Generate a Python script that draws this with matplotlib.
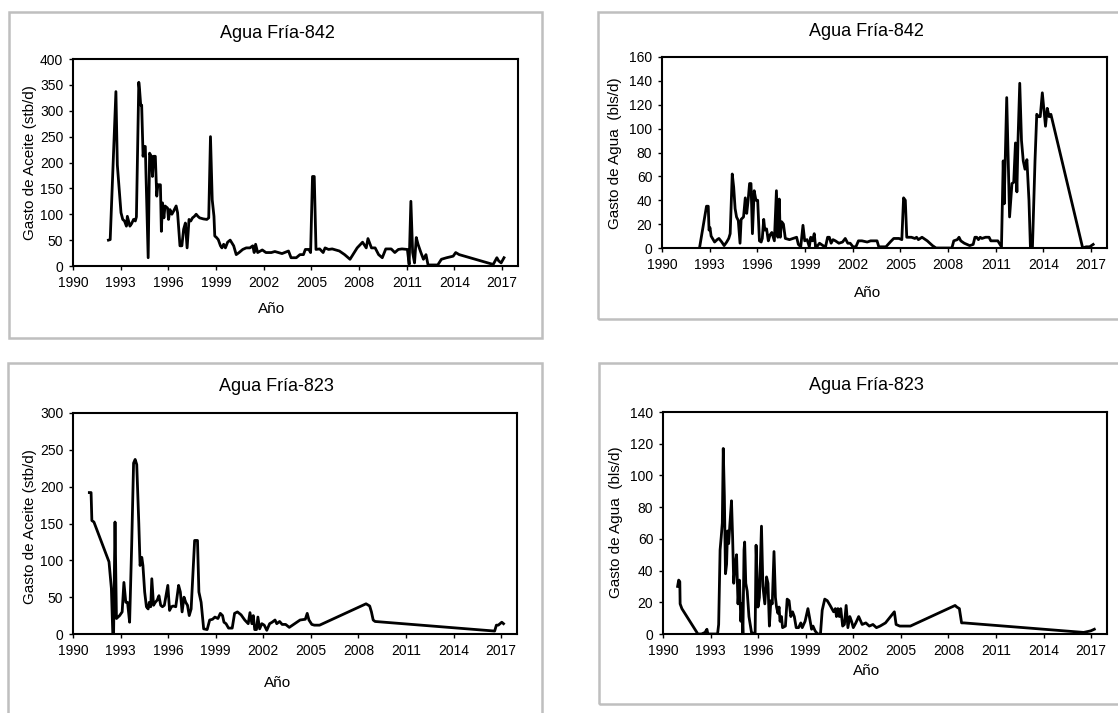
import matplotlib
matplotlib.use("Agg")
import matplotlib.pyplot as plt
from matplotlib.patches import Rectangle

plt.rcParams['font.family'] = ['Liberation Sans', 'DejaVu Sans']

W, H = 1118, 713

# Agua Fría-842, gasto de aceite (stb/d)
oil_842_year = [1992.23, 1992.34, 1992.55, 1992.70, 1992.79, 1993.02, 1993.13, 1993.24, 1993.36, 1993.42,
                1993.58, 1993.69, 1993.81, 1993.92, 1993.99, 1994.14, 1994.19, 1994.26, 1994.32, 1994.41,
                1994.48, 1994.55, 1994.59, 1994.73, 1994.82, 1994.93, 1995.00, 1995.07, 1995.18, 1995.27,
                1995.34, 1995.50, 1995.56, 1995.63, 1995.72, 1995.79, 1995.95, 1996.01, 1996.10, 1996.22,
                1996.33, 1996.49, 1996.58, 1996.73, 1996.85, 1996.96, 1997.07, 1997.18, 1997.30, 1997.41,
                1997.52, 1997.64, 1997.75, 1997.86, 1997.97, 1998.20, 1998.42, 1998.54, 1998.65, 1998.76,
                1998.87, 1998.92, 1999.03, 1999.14, 1999.28, 1999.37, 1999.48, 1999.59, 1999.73, 1999.89,
                2000.11, 2000.27, 2000.45, 2000.68, 2000.90, 2001.13, 2001.31, 2001.40, 2001.49, 2001.62,
                2001.91, 2002.14, 2002.48, 2002.70, 2003.15, 2003.56, 2003.72, 2004.05, 2004.28, 2004.50,
                2004.62, 2004.84, 2004.95, 2005.07, 2005.18, 2005.29, 2005.52, 2005.74, 2005.86, 2006.08,
                2006.31, 2006.76, 2007.09, 2007.43, 2007.88, 2008.22, 2008.45, 2008.56, 2008.78, 2009.01,
                2009.23, 2009.46, 2009.68, 2010.02, 2010.25, 2010.47, 2010.70, 2011.04, 2011.15, 2011.26,
                2011.37, 2011.49, 2011.60, 2011.71, 2011.89, 2012.05, 2012.21, 2012.34, 2012.61, 2012.95,
                2013.18, 2013.51, 2013.92, 2014.08, 2014.30, 2016.44, 2016.67, 2016.78, 2016.94, 2017.12]
oil_842_rate = [50, 51, 215, 337, 195, 103, 90, 87, 77, 96,
                77, 82, 90, 87, 95, 355, 340, 311, 311, 212,
                231, 231, 180, 16, 218, 212, 173, 212, 212, 135,
                157, 157, 67, 122, 93, 116, 112, 90, 109, 100,
                106, 116, 103, 39, 39, 71, 83, 35, 90, 87,
                93, 96, 100, 96, 93, 91, 90, 93, 250, 128,
                96, 58, 55, 51, 39, 35, 42, 35, 46, 50,
                39, 22, 26, 32, 35, 35, 39, 26, 42, 26,
                31, 26, 26, 28, 24, 29, 16, 16, 22, 22,
                32, 32, 26, 173, 173, 32, 33, 26, 35, 32,
                33, 29, 22, 13, 35, 46, 35, 53, 35, 35,
                22, 16, 33, 33, 26, 32, 33, 32, 3, 125,
                26, 6, 55, 42, 26, 13, 22, 2, 2, 2,
                13, 16, 19, 26, 22, 3, 16, 10, 6, 16]

# Agua Fría-842, gasto de agua (bls/d)
water_842_year = [1992.36, 1992.80, 1992.91, 1992.96, 1993.02, 1993.09, 1993.18, 1993.31, 1993.47, 1993.58,
                  1993.76, 1993.91, 1994.07, 1994.20, 1994.29, 1994.42, 1994.51, 1994.60, 1994.69, 1994.80,
                  1994.91, 1994.98, 1995.13, 1995.24, 1995.33, 1995.42, 1995.51, 1995.60, 1995.69, 1995.80,
                  1995.91, 1996.02, 1996.13, 1996.24, 1996.31, 1996.40, 1996.47, 1996.58, 1996.69, 1996.80,
                  1996.91, 1997.07, 1997.20, 1997.29, 1997.38, 1997.44, 1997.53, 1997.64, 1997.76, 1998.02,
                  1998.24, 1998.47, 1998.58, 1998.73, 1998.87, 1998.98, 1999.13, 1999.27, 1999.36, 1999.47,
                  1999.58, 1999.67, 1999.80, 1999.91, 2000.13, 2000.29, 2000.42, 2000.53, 2000.64, 2000.76,
                  2000.91, 2001.13, 2001.36, 2001.53, 2001.69, 2001.84, 2002.02, 2002.20, 2002.36, 2002.58,
                  2002.91, 2003.13, 2003.36, 2003.53, 2003.64, 2003.91, 2004.09, 2004.36, 2004.58, 2004.91,
                  2005.09, 2005.20, 2005.31, 2005.40, 2005.69, 2005.91, 2006.02, 2006.13, 2006.36, 2006.69,
                  2007.02, 2007.24, 2007.58, 2008.24, 2008.36, 2008.58, 2008.69, 2008.80, 2009.02, 2009.36,
                  2009.58, 2009.69, 2009.80, 2009.91, 2010.02, 2010.13, 2010.36, 2010.58, 2010.69, 2011.13,
                  2011.36, 2011.47, 2011.53, 2011.69, 2011.87, 2012.02, 2012.13, 2012.24, 2012.33, 2012.40,
                  2012.51, 2012.62, 2012.73, 2012.84, 2012.96, 2013.09, 2013.18, 2013.31, 2013.47, 2013.58,
                  2013.69, 2013.80, 2013.93, 2014.02, 2014.13, 2014.24, 2014.36, 2014.47, 2016.47, 2016.69,
                  2016.91, 2017.13]
water_842_rate = [0, 35, 35, 15, 17, 10, 8, 5, 7, 8,
                  5, 2, 5, 8, 12, 62, 51, 33, 26, 23,
                  4, 24, 26, 42, 29, 40, 54, 54, 12, 48,
                  40, 40, 6, 5, 8, 24, 15, 16, 6, 11,
                  13, 6, 48, 9, 41, 9, 22, 20, 8, 7,
                  8, 9, 3, 1, 19, 6, 7, 1, 9, 6,
                  12, 0, 2, 4, 2, 1, 9, 9, 4, 7,
                  6, 4, 5, 8, 4, 4, 1, 1, 6, 6,
                  5, 6, 6, 6, 1, 1, 1, 5, 8, 8,
                  7, 42, 40, 9, 9, 8, 9, 7, 9, 6,
                  2, 0, 0, 0, 6, 7, 9, 6, 4, 2,
                  3, 9, 9, 7, 9, 8, 9, 9, 6, 6,
                  1, 73, 37, 126, 26, 54, 55, 88, 47, 90,
                  138, 90, 73, 66, 74, 40, 1, 1, 73, 112,
                  110, 110, 130, 117, 102, 117, 110, 112, 0, 1,
                  1, 3]

# Agua Fría-823, gasto de aceite (stb/d)
oil_823_year = [1991.03, 1991.14, 1991.19, 1991.32, 1992.27, 1992.42, 1992.51, 1992.56, 1992.65, 1992.74,
                1992.94, 1993.10, 1993.21, 1993.33, 1993.44, 1993.57, 1993.70, 1993.82, 1993.92, 1994.02,
                1994.15, 1994.23, 1994.34, 1994.41, 1994.52, 1994.63, 1994.74, 1994.81, 1994.90, 1994.97,
                1995.08, 1995.19, 1995.31, 1995.42, 1995.53, 1995.64, 1995.76, 1995.98, 1996.09, 1996.21,
                1996.32, 1996.48, 1996.66, 1996.77, 1996.88, 1997.00, 1997.11, 1997.22, 1997.33, 1997.45,
                1997.67, 1997.85, 1997.94, 1998.08, 1998.24, 1998.46, 1998.62, 1998.80, 1998.95, 1999.14,
                1999.29, 1999.43, 1999.52, 1999.65, 1999.81, 2000.04, 2000.19, 2000.37, 2000.60, 2000.83,
                2001.05, 2001.16, 2001.28, 2001.37, 2001.46, 2001.57, 2001.66, 2001.77, 2001.91, 2002.06,
                2002.22, 2002.40, 2002.56, 2002.74, 2002.85, 2003.03, 2003.19, 2003.41, 2003.64, 2003.98,
                2004.32, 2004.65, 2004.77, 2004.88, 2005.06, 2005.22, 2005.55, 2008.48, 2008.71, 2008.82,
                2008.93, 2009.05, 2016.59, 2016.70, 2016.82, 2016.93, 2017.04, 2017.15]
oil_823_rate = [192, 192, 154, 152, 98, 62, 0, 0, 152, 21,
                25, 30, 70, 43, 43, 16, 120, 232, 237, 230,
                150, 93, 104, 93, 57, 37, 34, 43, 37, 75,
                39, 43, 46, 52, 39, 37, 39, 66, 32, 37,
                38, 37, 66, 57, 30, 50, 43, 39, 25, 34,
                127, 127, 57, 43, 7, 6, 19, 20, 23, 21,
                28, 25, 16, 14, 8, 8, 28, 30, 26, 19,
                14, 29, 14, 25, 6, 6, 23, 7, 14, 12,
                5, 14, 16, 19, 14, 17, 13, 13, 9, 14,
                19, 20, 28, 19, 13, 12, 12, 41, 38, 30,
                19, 17, 4, 12, 12, 14, 16, 14]

# Agua Fría-823, gasto de agua (bls/d)
water_823_year = [1990.92, 1990.99, 1991.06, 1991.08, 1991.19, 1992.20, 1992.43, 1992.65, 1992.77, 1992.83,
                  1992.88, 1993.44, 1993.51, 1993.60, 1993.67, 1993.74, 1993.80, 1993.87, 1993.94, 1994.01,
                  1994.07, 1994.14, 1994.21, 1994.32, 1994.39, 1994.46, 1994.55, 1994.64, 1994.73, 1994.82,
                  1994.91, 1994.97, 1995.04, 1995.11, 1995.15, 1995.22, 1995.31, 1995.42, 1995.58, 1995.81,
                  1995.87, 1995.99, 1996.08, 1996.21, 1996.30, 1996.42, 1996.53, 1996.62, 1996.71, 1996.80,
                  1996.89, 1997.00, 1997.09, 1997.16, 1997.25, 1997.32, 1997.38, 1997.47, 1997.54, 1997.72,
                  1997.83, 1997.95, 1998.06, 1998.17, 1998.28, 1998.40, 1998.55, 1998.69, 1998.78, 1998.96,
                  1999.14, 1999.23, 1999.37, 1999.46, 1999.59, 1999.75, 1999.93, 2000.04, 2000.20, 2000.36,
                  2000.54, 2000.76, 2000.87, 2000.94, 2001.03, 2001.12, 2001.21, 2001.33, 2001.44, 2001.55,
                  2001.66, 2001.78, 2001.89, 2002.00, 2002.16, 2002.34, 2002.56, 2002.79, 2003.01, 2003.24,
                  2003.46, 2003.69, 2004.03, 2004.59, 2004.70, 2004.93, 2005.60, 2008.42, 2008.53, 2008.69,
                  2008.83, 2008.98, 2016.53, 2016.98, 2017.20]
water_823_rate = [30, 34, 33, 19, 16, 0, 0, 1, 3, 0,
                  0, 0, 6, 53, 61, 70, 117, 87, 38, 44,
                  65, 57, 68, 84, 61, 32, 44, 50, 19, 34,
                  8, 19, 0, 53, 58, 32, 27, 11, 1, 0,
                  56, 17, 23, 68, 30, 19, 36, 32, 5, 21,
                  19, 52, 23, 17, 13, 17, 8, 11, 4, 5,
                  22, 21, 11, 14, 11, 4, 4, 7, 4, 8,
                  16, 11, 3, 5, 2, 0, 0, 15, 22, 21,
                  18, 14, 16, 11, 16, 11, 16, 5, 6, 18,
                  4, 11, 8, 4, 7, 11, 6, 7, 5, 6,
                  4, 5, 7, 14, 6, 5, 5, 18, 17, 16,
                  7, 7, 1, 2, 3]

year_ticks = list(range(1990, 2018, 3))

panels = [
    # title, ylabel, x, y, ymax, ytick step, axes box (px), frame box (px), title xy, xlabel xy, ylabel xy
    ("Agua Fría-842", "Gasto de Aceite (stb/d)", oil_842_year, oil_842_rate, 400, 50,
     (73, 59, 518, 266), (9, 12, 542, 338), (277, 33), (272, 309), (30, 163)),
    ("Agua Fría-842", "Gasto de Agua  (bls/d)", water_842_year, water_842_rate, 160, 20,
     (662, 57, 1107, 248), (598, 12, 1130, 319), (866, 32), (868, 293), (615, 153)),
    ("Agua Fría-823", "Gasto de Aceite (stb/d)", oil_823_year, oil_823_rate, 300, 50,
     (73, 413, 517, 634), (8, 363, 542, 730), (276, 386), (278, 683), (30, 527)),
    ("Agua Fría-823", "Gasto de Agua  (bls/d)", water_823_year, water_823_rate, 140, 20,
     (663, 412, 1107, 634), (599, 363, 1130, 704), (866, 385), (867, 671), (616, 522)),
]

fig = plt.figure(figsize=(W / 100, H / 100), dpi=100)


def fx(px):
    return px / W


def fy(py):
    return 1 - py / H


for title, ylabel, xs, ys, ymax, ystep, abox, fbox, tpos, xlpos, ylpos in panels:
    # marco gris de cada gráfica
    x0, y0, x1, y1 = fbox
    fig.patches.append(Rectangle((fx(x0), fy(y1)), fx(x1 - x0), (y1 - y0) / H,
                                 transform=fig.transFigure, fill=False,
                                 edgecolor="#bfbfbf", linewidth=1.8))

    l, t, r, b = abox
    ax = fig.add_axes([fx(l), fy(b), fx(r - l), (b - t) / H])
    ax.plot(xs, ys, color="black", linewidth=2.0, solid_joinstyle="round")
    ax.set_xlim(1990, 2018)
    ax.set_ylim(0, ymax)
    ax.set_xticks(year_ticks)
    ax.set_yticks(range(0, ymax + 1, ystep))
    ax.tick_params(direction="out", length=3, width=1, labelsize=10, pad=4, colors="black")
    for sp in ax.spines.values():
        sp.set_linewidth(1.5)
        sp.set_color("black")

    fig.text(fx(tpos[0]), fy(tpos[1]), title, fontsize=13, ha="center", va="center")
    fig.text(fx(xlpos[0]), fy(xlpos[1]), "Año", fontsize=11, ha="center", va="center")
    fig.text(fx(ylpos[0]), fy(ylpos[1]), ylabel, fontsize=11, ha="center", va="center", rotation=90)

fig.savefig("out.png", dpi=100)
